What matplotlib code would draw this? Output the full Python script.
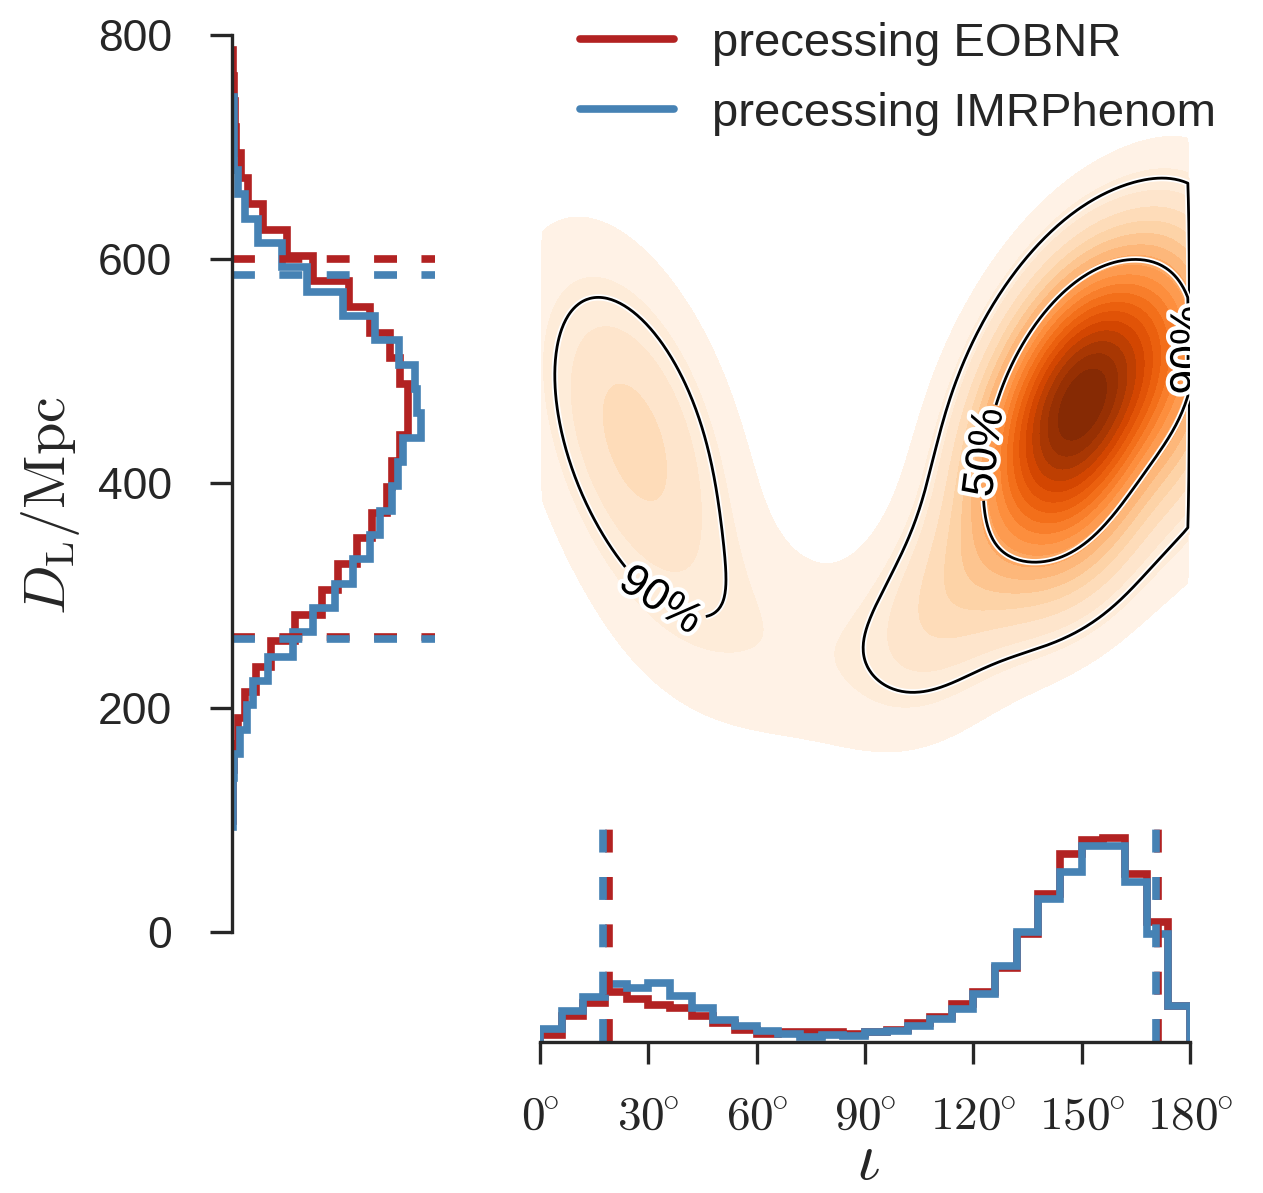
import numpy as np
import matplotlib.pyplot as plt
import matplotlib.patheffects as pe

plt.rcParams['font.family'] = ['Liberation Sans', 'DejaVu Sans']
plt.rcParams['mathtext.fontset'] = 'cm'

red = '#b22222'
blue = '#4682b4'
ink = '#262626'

# luminosity distance histograms (30 bins over each sample range), low -> high D_L
dl_range_eob = (99.0, 786.6)
dl_hist_eob = [0.5, 0.7, 1.5, 6, 13, 24, 39, 63, 90, 106, 125, 140, 155, 160, 168,
               176, 176, 168, 158, 138, 117, 81, 55, 31, 15.7, 8.7, 4, 2.5, 1.5, 0.5]
dl_range_imr = (93.6, 744.7)
dl_hist_imr = [0.5, 0.7, 2, 8, 15, 21, 36, 61, 81, 103, 121, 138, 148, 160, 166,
               171, 189, 185, 183, 167, 143, 111, 75, 50, 26, 13, 6, 2, 1.5, 1.5]
dl_bounds_eob = [263, 600]
dl_bounds_imr = [261, 586]

# inclination histograms, 6 degree bins
iota_edges = np.arange(0, 181, 6)
iota_hist_eob = [7, 26, 39, 50, 43, 37, 34, 26, 19, 12, 8, 10, 10, 10, 8,
                 10, 12, 19, 25, 38, 50, 74, 108, 148, 188, 202, 204, 168, 120, 36]
iota_hist_imr = [13, 31, 45, 58, 54, 59, 46, 34, 22, 16, 11, 8, 5, 7, 6,
                 10, 11, 16, 23, 33, 48, 76, 110, 143, 170, 196, 196, 160, 108, 36]
iota_bounds_eob = [19.0, 171.2]
iota_bounds_imr = [17.5, 170.5]

# joint density, described by a few correlated lobes (iota in deg, D_L in Mpc, peak height)
lobe_iota = [150, 180, 150, 110, 26, 78]
lobe_dl = [472, 490, 330, 292, 440, 245]
lobe_sig_iota = [20, 10, 18, 14, 20, 30]
lobe_sig_dl = [95, 90, 60, 62, 115, 70]
lobe_rho = [0.45, 0.0, 0.3, 0.3, -0.45, -0.2]
lobe_amp = [1.0, 0.15, 0.1, 0.12, 0.22, 0.08]
# heights of the credible contours (fraction of peak density) and where their labels sit
cred_labels = ['90%', '50%']
cred_heights = [0.12, 0.42]
cred_label_pos = [[(38, 315), (179.5, 519)], [(130, 425)]]

ii, dd = np.meshgrid(np.linspace(0, 180, 301), np.linspace(0, 900, 451))
dens = np.zeros_like(ii)
for mi, md, si, sd, r, a in zip(lobe_iota, lobe_dl, lobe_sig_iota, lobe_sig_dl, lobe_rho, lobe_amp):
    x = (ii - mi) / si
    y = (dd - md) / sd
    q = (x * x - 2 * r * x * y + y * y) / (1 - r * r)
    dens += a * np.exp(-0.5 * q)
dens[:, 0] = 0
dens[:, -1] = 0
dens /= dens.max()

W, H = 1263, 1193
fig = plt.figure(figsize=(W / 100, H / 100), dpi=100)
ylo, yhi = -98.1, 822.2
ax_l = fig.add_axes([232 / W, (H - 1042) / H, 203 / W, 1032 / H])
ax_m = fig.add_axes([540 / W, (H - 1042) / H, 650 / W, 1032 / H])
ax_b = fig.add_axes([540 / W, (H - 1042) / H, 650 / W, 214 / H])

# left: D_L histogram
lw = 5.5
for vals, rng, col in [(dl_hist_eob, dl_range_eob, red), (dl_hist_imr, dl_range_imr, blue)]:
    edges = np.linspace(rng[0], rng[1], len(vals) + 1)
    ax_l.stairs(vals, edges, orientation='horizontal', baseline=0, color=col, lw=lw,
                joinstyle='miter')
for b in dl_bounds_eob:
    ax_l.axhline(b, color=red, lw=lw, dashes=(3, 3.2))
for b in dl_bounds_imr:
    ax_l.axhline(b, color=blue, lw=lw, dashes=(3, 3.2))
ax_l.set_ylim(ylo, yhi)
ax_l.set_xlim(0, 203)
ax_l.set_yticks([0, 200, 400, 600, 800])
for s in ['top', 'right', 'bottom']:
    ax_l.spines[s].set_visible(False)
ax_l.spines['left'].set_bounds(0, 800)
ax_l.spines['left'].set_linewidth(2.4)
ax_l.spines['left'].set_color(ink)
ax_l.set_xticks([])
ax_l.tick_params(axis='y', length=16, width=2.4, labelsize=32, pad=27, colors=ink)
ax_l.set_ylabel(r'$D_\mathrm{L}/\mathrm{Mpc}$', fontsize=42, color=ink)
ax_l.yaxis.set_label_coords(-0.74, 0.52)

# main: joint density
levels = np.linspace(0, 1.0001, 21)[1:]
ax_m.contourf(ii, dd, dens, levels=levels, cmap='Oranges')
for h, lab, pos in zip(cred_heights, cred_labels, cred_label_pos):
    cs = ax_m.contour(ii, dd, dens, levels=[h], colors='k', linewidths=2)
    cs.set_path_effects([pe.Stroke(linewidth=4.5, foreground='w'), pe.Normal()])
    texts = ax_m.clabel(cs, fmt={h: lab}, fontsize=32, inline=True, manual=pos)
    for t in texts:
        t.set_path_effects([pe.withStroke(linewidth=6, foreground='w')])
ax_m.set_xlim(0, 180)
ax_m.set_ylim(ylo, yhi)
ax_m.axis('off')
ax_m.plot([], [], color=red, lw=lw, solid_capstyle='round', label='precessing EOBNR')
ax_m.plot([], [], color=blue, lw=lw, solid_capstyle='round', label='precessing IMRPhenom')
ax_m.legend(loc='upper left', bbox_to_anchor=(580 / W, 1 - 22 / H), bbox_transform=fig.transFigure,
            frameon=False, fontsize=34, borderpad=0, borderaxespad=0, handlelength=2.0,
            handletextpad=0.8, labelspacing=0.55, labelcolor=ink)

# bottom: inclination histogram
ax_b.patch.set_visible(False)
ax_b.stairs(iota_hist_eob, iota_edges, baseline=0, color=red, lw=lw, joinstyle='miter')
ax_b.stairs(iota_hist_imr, iota_edges, baseline=0, color=blue, lw=lw, joinstyle='miter')
for b in iota_bounds_eob:
    ax_b.axvline(b, color=red, lw=lw, dashes=(3, 3.2))
for b in iota_bounds_imr:
    ax_b.axvline(b, color=blue, lw=lw, dashes=(3, 3.2))
ax_b.set_xlim(0, 180)
ax_b.set_ylim(0, 214)
for s in ['top', 'right', 'left']:
    ax_b.spines[s].set_visible(False)
ax_b.spines['bottom'].set_linewidth(2.4)
ax_b.spines['bottom'].set_color(ink)
ax_b.set_yticks([])
ax_b.set_xticks(range(0, 181, 30))
ax_b.set_xticklabels([r'$%d^{\!\!\circ}$' % v for v in range(0, 181, 30)])
ax_b.tick_params(axis='x', length=16, width=2.4, labelsize=34, pad=22, colors=ink)
ax_b.set_xlabel(r'$\iota$', fontsize=48, color=ink, va='bottom')
ax_b.xaxis.set_label_coords(0.505, -0.705)

fig.savefig('out.png', dpi=100)
